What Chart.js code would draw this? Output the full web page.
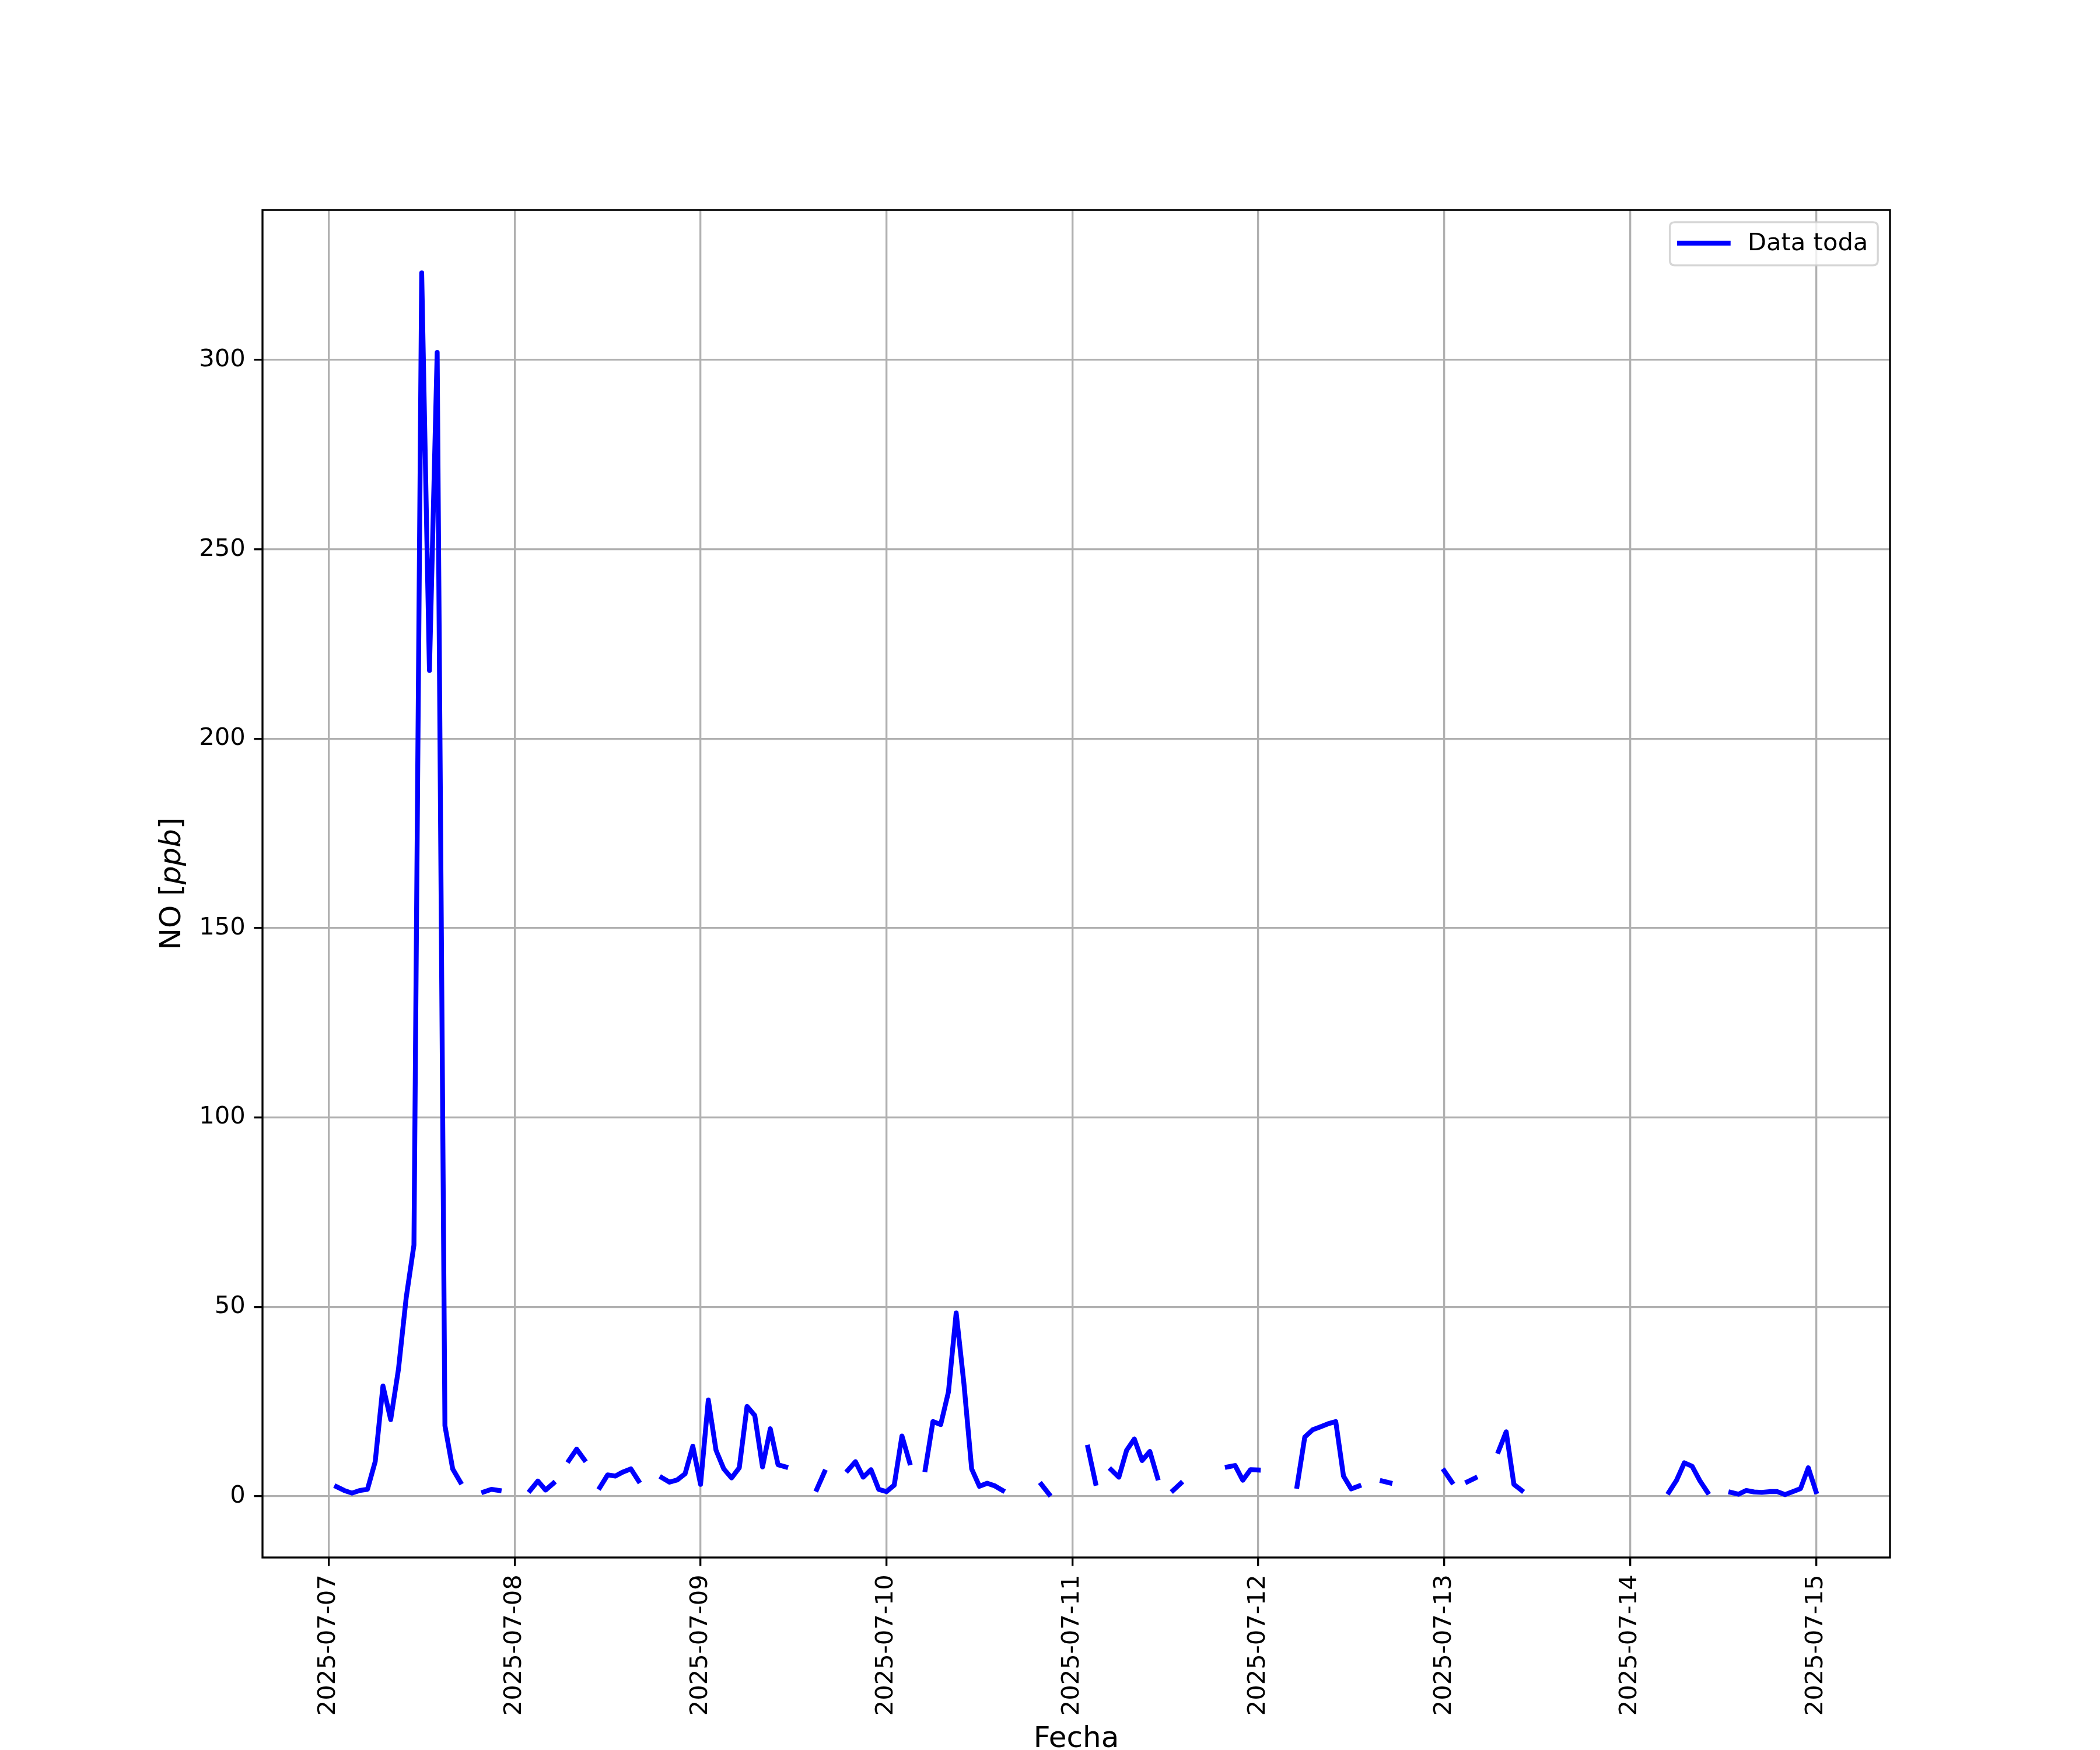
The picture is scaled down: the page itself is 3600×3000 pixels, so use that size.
<!DOCTYPE html>
<html>
<head>
<meta charset="utf-8">
<script src="https://cdn.jsdelivr.net/npm/chart.js@4.4.1/dist/chart.umd.min.js"></script>
<style>
html,body{margin:0;padding:0;background:#ffffff;}
#wrap{width:3600px;height:3000px;position:relative;}
</style>
</head>
<body>
<div id="wrap"><canvas id="c" width="3600" height="3000"></canvas></div>
<script>
// ---- data (hourly NO, ppb; index 0 = 2025-07-07 00:00; null = missing) ----
const dayLabels = ['2025-07-07','2025-07-08','2025-07-09','2025-07-10','2025-07-11','2025-07-12','2025-07-13','2025-07-14','2025-07-15'];
const dayTickHours = [0,24,48,72,96,120,144,168,192];
const yTickValues = [0,50,100,150,200,250,300];
const seriesName = 'Data toda';
const xTitle = 'Fecha';
const yTitleParts = [['NO [', false], ['ppb', true], [']', false]];

const noDay07 = [null,2.5,1.5,0.8,1.5,1.8,9.1,29.1,20.2,33.5,52.4,66.3,323,218,302,18.6,7.2,3.7,null,null,1.1,1.8,1.5,null];
const noDay08 = [null,null,1.5,4.0,1.6,3.4,null,9.4,12.4,9.6,null,2.3,5.6,5.3,6.4,7.2,4.0,null,null,4.9,3.7,4.3,5.9,13.2];
const noDay09 = [3.1,25.4,12.1,7.2,4.8,7.5,23.7,21.3,7.7,17.8,8.3,7.7,null,null,null,1.8,6.4,null,null,6.8,9.1,5.0,7.0,1.8];
const noDay10 = [1.2,2.9,15.9,8.8,null,7.0,19.7,18.9,27.5,48.4,29.7,7.2,2.6,3.4,2.7,1.5,null,null,null,null,3.1,0.5,null,null];
const noDay11 = [null,null,12.9,3.4,null,7.0,5.0,12.1,15.1,9.4,11.8,4.8,null,1.5,3.4,null,null,null,null,null,7.7,8.1,4.2,7.0];
const noDay12 = [6.9,null,null,null,null,2.6,15.6,17.5,18.3,19.1,19.7,5.3,1.9,2.7,null,null,4.0,3.5,null,null,null,null,null,null];
const noDay13 = [6.7,3.7,null,3.8,4.8,null,null,11.8,17.0,3.1,1.5,null,null,null,null,null,null,null,null,null,null,null,null,null];
const noDay14 = [null,null,null,null,null,1.0,4.2,8.8,7.9,4.1,1.0,null,null,1.0,0.5,1.5,1.1,1.0,1.2,1.2,0.4,1.2,2.0,7.5];
const noDay15 = [1.2];

const noSeries = [].concat(noDay07,noDay08,noDay09,noDay10,noDay11,noDay12,noDay13,noDay14,noDay15);
const points = noSeries.map((v,i)=>({x:i, y:v}));

// ---- styling (matplotlib-like, 300 dpi) ----
const PT = 300/72;
const FONT = 'DejaVu Sans';
const tickFont = 10*PT;
const labelFont = 12*PT;
const dataLineWidth = 2*PT;

Chart.defaults.font.family = FONT;

const framePlugin = {
  id:'frame',
  afterDatasetsDraw(chart){
    const {ctx, chartArea:a} = chart;
    ctx.save();
    ctx.strokeStyle = '#000';
    ctx.lineWidth = 0.8*PT;
    ctx.lineJoin = 'miter';
    ctx.strokeRect(a.left, a.top, a.right-a.left, a.bottom-a.top);
    ctx.restore();
  }
};

const legendTitlesPlugin = {
  id:'legendTitles',
  afterDraw(chart){
    const {ctx, chartArea:a} = chart;
    ctx.save();
    // legend box (upper right)
    const fs = tickFont;
    const pad = 0.5*fs;
    const bw = 356.6, bh = 74;
    const bx = a.right - pad - bw, by = a.top + pad;
    const r = 0.2*fs;
    ctx.beginPath();
    ctx.moveTo(bx+r,by);
    ctx.lineTo(bx+bw-r,by); ctx.quadraticCurveTo(bx+bw,by,bx+bw,by+r);
    ctx.lineTo(bx+bw,by+bh-r); ctx.quadraticCurveTo(bx+bw,by+bh,bx+bw-r,by+bh);
    ctx.lineTo(bx+r,by+bh); ctx.quadraticCurveTo(bx,by+bh,bx,by+bh-r);
    ctx.lineTo(bx,by+r); ctx.quadraticCurveTo(bx,by,bx+r,by);
    ctx.closePath();
    ctx.fillStyle = 'rgba(255,255,255,0.8)';
    ctx.fill();
    ctx.strokeStyle = 'rgba(204,204,204,0.8)';
    ctx.lineWidth = 0.8*PT;
    ctx.stroke();
    const ly = by + bh/2 - 1;
    const hx = bx + 0.4*fs;
    ctx.beginPath();
    ctx.moveTo(hx, ly); ctx.lineTo(hx+2*fs, ly);
    ctx.strokeStyle = '#0000ff';
    ctx.lineWidth = dataLineWidth;
    ctx.lineCap = 'square';
    ctx.stroke();
    ctx.fillStyle = '#000';
    ctx.font = fs + 'px "' + FONT + '"';
    ctx.textAlign = 'left';
    ctx.textBaseline = 'middle';
    ctx.fillText(seriesName, hx + 2*fs + 0.8*fs, ly + 1);

    // x title
    ctx.font = labelFont + 'px "' + FONT + '"';
    ctx.textAlign = 'center';
    ctx.textBaseline = 'alphabetic';
    ctx.fillText(xTitle, (a.left+a.right)/2, 2995);

    // y title (rotated, partly italic)
    ctx.translate(296, (a.top+a.bottom)/2);
    ctx.rotate(-Math.PI/2);
    let total = 0;
    const widths = yTitleParts.map(([t,it])=>{
      ctx.font = (it?'italic ':'') + labelFont + 'px "' + FONT + '"';
      const w = ctx.measureText(t).width; total += w; return w;
    });
    let cx = -total/2;
    ctx.textAlign = 'left';
    ctx.textBaseline = 'middle';
    yTitleParts.forEach(([t,it],i)=>{
      ctx.font = (it?'italic ':'') + labelFont + 'px "' + FONT + '"';
      ctx.fillText(t, cx, 0);
      cx += widths[i];
    });
    ctx.restore();
  }
};

const gridOpts = {
  color:'#b0b0b0',
  lineWidth:0.8*PT,
  tickColor:'#000000',
  tickWidth:0.8*PT,
  tickLength:3.5*PT,
  drawTicks:true
};

new Chart(document.getElementById('c'), {
  type:'line',
  data:{
    datasets:[{
      label:seriesName,
      data:points,
      borderColor:'#0000ff',
      backgroundColor:'#0000ff',
      borderWidth:dataLineWidth,
      borderCapStyle:'square',
      borderJoinStyle:'round',
      pointRadius:0,
      pointHoverRadius:0,
      tension:0,
      spanGaps:false,
      fill:false
    }]
  },
  options:{
    responsive:false,
    animation:false,
    devicePixelRatio:1,
    parsing:true,
    layout:{padding:{top:360,right:360,left:0,bottom:0}},
    plugins:{legend:{display:false}, tooltip:{enabled:false}},
    scales:{
      x:{
        type:'linear',
        min:-8.55, max:201.55,
        afterBuildTicks:(s)=>{ s.ticks = dayTickHours.map(v=>({value:v})); },
        afterFit:(s)=>{ s.height = 330; },
        ticks:{
          autoSkip:false, maxRotation:90, minRotation:90,
          padding:3.5*PT, color:'#000',
          font:{family:FONT, size:tickFont},
          callback:(v,i)=>dayLabels[i]
        },
        grid:gridOpts,
        border:{display:false}
      },
      y:{
        type:'linear',
        min:-16.2, max:339.6,
        afterBuildTicks:(s)=>{ s.ticks = yTickValues.map(v=>({value:v})); },
        afterFit:(s)=>{ s.width = 450; },
        ticks:{
          padding:3.5*PT, color:'#000',
          font:{family:FONT, size:tickFont},
          callback:(v)=>String(v)
        },
        grid:gridOpts,
        border:{display:false}
      }
    }
  },
  plugins:[framePlugin, legendTitlesPlugin]
});
</script>
</body>
</html>
